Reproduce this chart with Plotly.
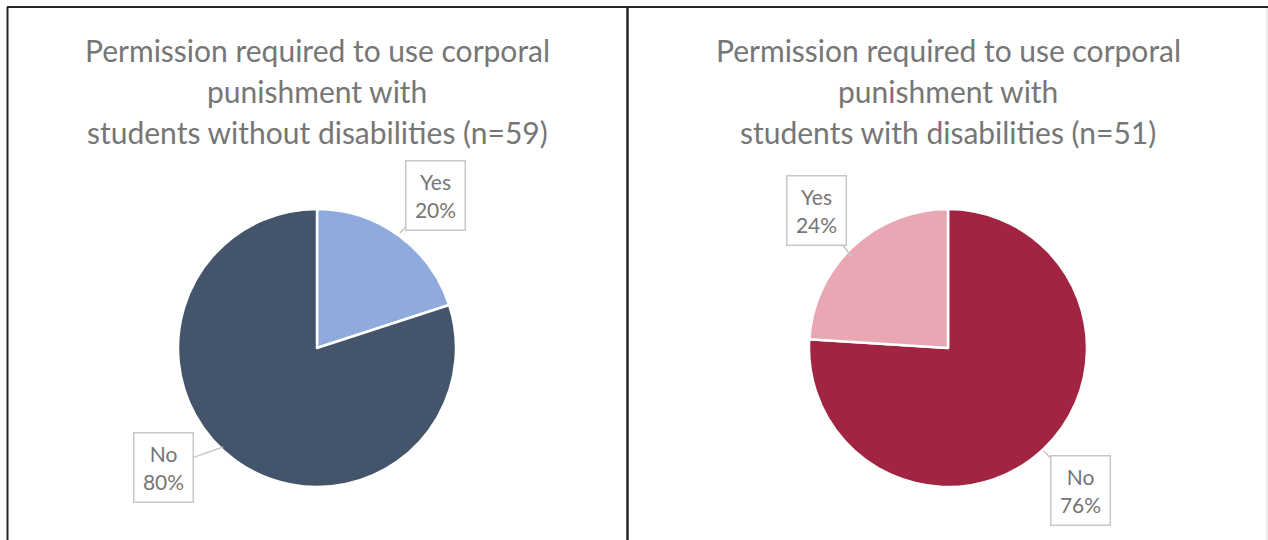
import plotly.graph_objects as go

labels = ["Yes", "No"]
without_disab = [20, 80]
with_disab = [24, 76]
title_left = ["Permission required to use corporal", "punishment with",
              "students without disabilities (n=59)"]
title_right = ["Permission required to use corporal", "punishment with",
               "students with disabilities (n=51)"]
colors_left = ["#8FAADC", "#44546A"]
colors_right = ["#E8A7B3", "#A12541"]

W, H = 1268, 540
FONT = "Lato"
GRAY = "#767676"

fig = go.Figure()

def px(x):
    return x / W

def py(y):
    return 1 - y / H

fig.add_trace(go.Pie(
    labels=labels, values=without_disab, sort=False, direction="clockwise", rotation=0,
    marker=dict(colors=colors_left, line=dict(color="white", width=2.5)),
    textinfo="none", hoverinfo="label+percent",
    domain=dict(x=[px(178), px(456)], y=[py(487), py(209)]),
    showlegend=False,
))
# right chart: "No" slice first, clockwise from 12 o'clock
fig.add_trace(go.Pie(
    labels=labels[::-1], values=with_disab[::-1], sort=False, direction="clockwise", rotation=0,
    marker=dict(colors=colors_right[::-1], line=dict(color="white", width=2.5)),
    textinfo="none", hoverinfo="label+percent",
    domain=dict(x=[px(809), px(1087)], y=[py(487), py(209)]),
    showlegend=False,
))

# titles (one annotation per line to match line spacing)
line_y = [50, 91, 132]
for cx, lines in zip([317, 948], [title_left, title_right]):
    for ly, t in zip(line_y, lines):
        fig.add_annotation(x=px(cx), y=py(ly), xref="paper", yref="paper", text=t,
                           showarrow=False, xanchor="center", yanchor="middle",
                           font=dict(family=FONT, size=30, color=GRAY))

# callout labels: (tip x, tip y, box center x, box center y, text)
def pct_text(lab, v, tot):
    return f"{lab}<br>{round(100 * v / tot)}%"

callouts = [
    (400, 233, 435, 195, pct_text(labels[0], without_disab[0], sum(without_disab))),
    (223, 447, 163, 468, pct_text(labels[1], without_disab[1], sum(without_disab))),
    (852, 257, 816, 211, pct_text(labels[0], with_disab[0], sum(with_disab))),
    (1044, 451, 1080, 490, pct_text(labels[1], with_disab[1], sum(with_disab))),
]
for tx, ty, bx, by, txt in callouts:
    fig.add_annotation(x=px(tx), y=py(ty), xref="paper", yref="paper",
                       ax=bx - tx, ay=by - ty, axref="pixel", ayref="pixel",
                       text=txt, showarrow=True, arrowhead=0, arrowwidth=1.5,
                       arrowcolor="#C8C8C8", bordercolor="#C8C8C8", borderwidth=1.5,
                       borderpad=2, width=54, height=64, bgcolor="white", align="center",
                       font=dict(family=FONT, size=21, color=GRAY))

# panel borders
shapes = [
    dict(type="line", x0=px(7), x1=px(1268), y0=py(7), y1=py(7), line=dict(color="#262626", width=2)),
    dict(type="line", x0=px(7.5), x1=px(7.5), y0=py(7), y1=0, line=dict(color="#262626", width=2)),
    dict(type="line", x0=px(627.5), x1=px(627.5), y0=py(7), y1=0, line=dict(color="#262626", width=2.5)),
    dict(type="line", x0=px(1267), x1=px(1267), y0=py(8), y1=0, line=dict(color="#DADADA", width=1)),
]
for s in shapes:
    s.update(xref="paper", yref="paper")
    fig.add_shape(**s)

fig.update_layout(width=W, height=H, margin=dict(l=0, r=0, t=0, b=0),
                  paper_bgcolor="white", plot_bgcolor="white")

fig.write_html("out.html", config=dict(displayModeBar=False),
               post_script="document.body.style.margin='0';document.body.style.overflow='hidden';")
